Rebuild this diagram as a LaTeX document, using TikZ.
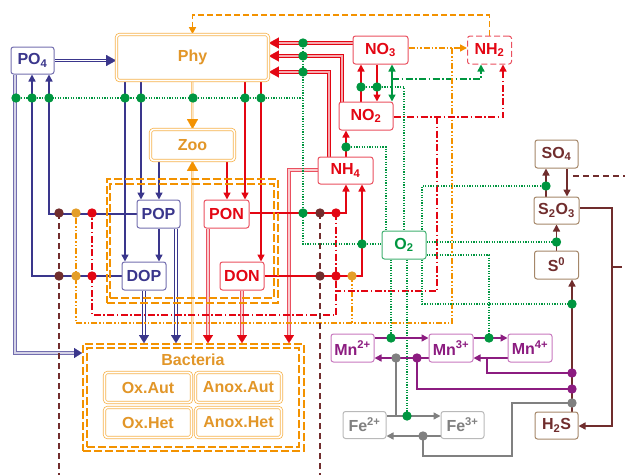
\documentclass[tikz,border=0pt]{standalone}
\usepackage{fontspec}
\setmainfont{Liberation Sans}
\usetikzlibrary{arrows.meta,calc}
\definecolor{cB}{RGB}{58,54,140}
\definecolor{cBb}{RGB}{115,110,175}
\definecolor{cR}{RGB}{227,6,19}
\definecolor{cRb}{RGB}{234,80,95}
\definecolor{cRl}{RGB}{246,170,175}
\definecolor{cG}{RGB}{0,150,64}
\definecolor{cO}{RGB}{243,146,0}
\definecolor{cOt}{RGB}{226,150,40}
\definecolor{cOl}{RGB}{249,200,130}
\definecolor{cOd}{RGB}{228,158,40}
\definecolor{cBr}{RGB}{112,45,45}
\definecolor{cBrb}{RGB}{165,135,105}
\definecolor{cP}{RGB}{140,28,128}
\definecolor{cPb}{RGB}{200,120,190}
\definecolor{cGy}{RGB}{128,128,128}
\definecolor{cGyb}{RGB}{185,185,185}
\pgfdeclarelayer{bg}
\pgfsetlayers{bg,main}
\newcommand\atip[4]{\draw[draw=#1, fill=#1, line width=0.2pt, #2] ($#3+#4$) -- #3;}
\newcommand\mydot[3]{\fill[#1] (#2,#3) circle (4.7pt);}
\begin{document}
\begin{tikzpicture}[x=1pt,y=-1pt,
 every node/.style={inner sep=0pt, font=\bfseries\fontsize{16}{16}\selectfont},
 box/.style={draw, fill=white, rounded corners=2.5pt, line width=1pt, minimum width=43pt, minimum height=27pt},
 bbox/.style={box, draw=cBb, text=cB},
 rbox/.style={box, draw=cRb, text=cR},
 gbox/.style={box, draw=cG!75, text=cG},
 sbox/.style={box, draw=cBrb, text=cBr},
 mbox/.style={box, draw=cPb, text=cP},
 fbox/.style={box, draw=cGyb, text=cGy},
 obox/.style={draw=cO!70, double=white, double distance=1.6pt, line width=0.75pt, fill=white, rounded corners=3pt, text=cOt},
 odash/.style={draw=cO, line width=1.8pt, dash pattern=on 8pt off 3pt},
 tipS/.style={-{Triangle[length=7pt,width=7pt]}},
 tipM/.style={-{Triangle[length=8pt,width=10pt]}},
 tipL/.style={-{Triangle[length=10pt,width=11pt]}},
 lB/.style={draw=cB, line width=1.5pt},
 lR/.style={draw=cR, line width=1.5pt},
 lG/.style={draw=cG, line width=1.5pt},
 lBr/.style={draw=cBr, line width=1.5pt},
 lP/.style={draw=cP, line width=1.5pt},
 lGy/.style={draw=cGy, line width=1.5pt},
 dB/.style={draw=cB, double=white, double distance=1.6pt, line width=0.8pt},
 dBl/.style={draw=cBb, double=cBb!30, double distance=1.6pt, line width=0.8pt},
 dR/.style={draw=cR, double=cRl, double distance=1.6pt, line width=0.8pt},
 dRl/.style={draw=cRb, double=cRl!60, double distance=1.6pt, line width=0.8pt},
 dO/.style={draw=cOl, double=cOl!50, double distance=2pt, line width=0.9pt},
 gdot/.style={draw=cG, line width=1.2pt, dash pattern=on 1.2pt off 1.4pt},
 rdd/.style={draw=cR, line width=1.5pt, dash pattern=on 7pt off 2.5pt on 1.5pt off 2.5pt},
 gdd/.style={draw=cG, line width=1.5pt, dash pattern=on 7pt off 2.5pt on 1.5pt off 2.5pt},
 odd/.style={draw=cO, line width=1.5pt, dash pattern=on 6pt off 2pt on 1.5pt off 2pt on 1.5pt off 2pt},
 od/.style={draw=cO, line width=1.5pt, dash pattern=on 6pt off 3pt},
 brd/.style={draw=cBr, line width=1.4pt, dash pattern=on 6pt off 4pt}
]
\useasboundingbox (0,0) rectangle (625,475);

% ---------- nodes ----------
\node[odash, minimum width=171pt, minimum height=124pt] (OMo) at (192.5,241) {};
\node[odash, minimum width=164pt, minimum height=114pt] (OMi) at (192,241) {};
\node[odash, minimum width=221pt, minimum height=107pt] (Bact) at (193.5,397.5) {};
\node[odash, minimum width=212pt, minimum height=99pt] (BactIn) at (193,397.5) {};
\node[text=cOt] (BacL) at (193,360) {Bacteria};
\node[obox, minimum width=87pt, minimum height=30pt] (OxAut) at (148,387.5) {Ox.Aut};
\node[obox, minimum width=86pt, minimum height=30pt] (AnAut) at (238.5,387.5) {Anox.Aut};
\node[obox, minimum width=87pt, minimum height=30pt] (OxHet) at (148,422.5) {Ox.Het};
\node[obox, minimum width=86pt, minimum height=30pt] (AnHet) at (238.5,422.5) {Anox.Het};

\node[bbox] (PO4) at (32.5,60.5) {PO\textsubscript{4}};
\node[obox, minimum width=152pt, minimum height=46pt] (Phy) at (192.5,57.5) {Phy};
\node[obox, minimum width=84pt, minimum height=31pt] (Zoo) at (192.5,145) {Zoo};
\node[rbox, minimum width=55pt, minimum height=28pt] (NO3) at (380.5,50) {NO\textsubscript{3}};
\node[rbox, dash pattern=on 6pt off 3pt, minimum width=44pt, minimum height=28pt] (NH2) at (489.5,50) {NH\textsubscript{2}};
\node[rbox, minimum width=54pt, minimum height=28pt] (NO2) at (366,116) {NO\textsubscript{2}};
\node[rbox, minimum width=55pt] (NH4) at (345.5,170.5) {NH\textsubscript{4}};
\node[bbox, minimum height=28pt] (POP) at (158.5,214) {POP};
\node[rbox, minimum width=45pt, minimum height=28pt] (PON) at (226.5,214) {PON};
\node[bbox, minimum width=44pt, minimum height=28pt] (DOP) at (144,276) {DOP};
\node[rbox, minimum width=44pt, minimum height=28pt] (DON) at (242,276) {DON};
\node[gbox, minimum width=44pt, minimum height=28pt] (O2) at (404,245) {O\textsubscript{2}};
\node[sbox, minimum height=28pt] (SO4) at (556.5,154) {SO\textsubscript{4}};
\node[sbox, minimum width=45pt] (S2O3) at (556.5,210.5) {S\textsubscript{2}O\textsubscript{3}};
\node[sbox, minimum width=44pt, minimum height=28pt] (S0) at (556.5,265) {S\textsuperscript{0}};
\node[sbox] (H2S) at (556.5,425.5) {H\textsubscript{2}S};
\node[mbox, minimum height=28pt] (Mn2) at (352.5,348) {Mn\textsuperscript{2+}};
\node[mbox, minimum width=44pt, minimum height=28pt] (Mn3) at (451,348) {Mn\textsuperscript{3+}};
\node[mbox, minimum width=44pt, minimum height=28pt] (Mn4) at (530,348) {Mn\textsuperscript{4+}};
\node[fbox] (Fe2) at (364.5,425) {Fe\textsuperscript{2+}};
\node[fbox] (Fe3) at (462.5,425) {Fe\textsuperscript{3+}};

\begin{pgfonlayer}{bg}
% orange dashed feedback NH2 -> Phy
\draw[od, tipS] (NH2.north) -- (489.5,15) -- (192.5,15) -- (Phy.north);
% PO4 -> Phy
\draw[dB, shorten >=9pt] (PO4.east) -- (Phy.west |- PO4.east);
\atip{cB}{tipL}{(Phy.west |- PO4.east)}{(-3,0)}
% PO4 -> Bacteria
\draw[dBl, shorten >=7pt] (15,0 |- PO4.south) -- (15,353) -- (Bact.west |- 0,353);
\atip{cB}{tipM}{(Bact.west |- 0,353)}{(-3,0)}
% POP, DOP -> PO4
\draw[lB, tipS] (POP.west) -- (49,0 |- POP.west) -- (49,0 |- PO4.south);
\draw[lB, tipS] (DOP.west) -- (32,0 |- DOP.west) -- (32,0 |- PO4.south);
% Phy/Zoo -> POP/DOP
\draw[lB, tipS] (125,0 |- Phy.south) -- (125,0 |- DOP.north);
\draw[lB, tipS] (141,0 |- Phy.south) -- (141,0 |- POP.north);
\draw[lB, tipS] (159,0 |- Zoo.south) -- (159,0 |- POP.north);
\draw[lB, tipS] (159,0 |- POP.south) -- (159,0 |- DOP.north);
% POP, DOP -> Bacteria
\draw[dB, shorten >=7pt] (176,0 |- POP.south) -- (176,0 |- Bact.north);
\atip{cB}{tipM}{(176,0 |- Bact.north)}{(0,-3)}
\draw[dB, shorten >=7pt] (144,0 |- DOP.south) -- (144,0 |- Bact.north);
\atip{cB}{tipM}{(144,0 |- Bact.north)}{(0,-3)}
% Phy -> Zoo, Bacteria -> Zoo
\draw[dO, shorten >=9pt] (Phy.south) -- (Zoo.north);
\atip{cO}{tipL}{(Zoo.north)}{(0,-3)}
\draw[dO, shorten >=9pt] (192.5,0 |- Bact.north) -- (Zoo.south);
\atip{cO}{tipL}{(Zoo.south)}{(0,3)}
% nitrogen -> Phy
\draw[dR, shorten >=9pt] (NO3.west |- 0,43) -- (Phy.east |- 0,43);
\atip{cR}{tipL}{(Phy.east |- 0,43)}{(3,0)}
\draw[dR, shorten >=9pt] (342,0 |- NO2.north) -- (342,56) -- (Phy.east |- 0,56);
\atip{cR}{tipL}{(Phy.east |- 0,56)}{(3,0)}
\draw[dR, shorten >=9pt] (329,0 |- NH4.north) -- (329,72) -- (Phy.east |- 0,72);
\atip{cR}{tipL}{(Phy.east |- 0,72)}{(3,0)}
% NH4 -> Bacteria
\draw[dRl, shorten >=7pt] (NH4.west |- 0,170) -- (289,170) -- (289,0 |- Bact.north);
\atip{cR}{tipM}{(289,0 |- Bact.north)}{(0,-3)}
% Phy/Zoo -> PON/DON
\draw[lR, tipS] (245,0 |- Phy.south) -- (245,0 |- PON.north);
\draw[lR, tipS] (227,0 |- Zoo.south) -- (227,0 |- PON.north);
\draw[lR, tipS] (261,0 |- Phy.south) -- (261,0 |- DON.north);
% PON, DON -> Bacteria
\draw[dRl, shorten >=7pt] (208,0 |- PON.south) -- (208,0 |- Bact.north);
\atip{cR}{tipM}{(208,0 |- Bact.north)}{(0,-3)}
\draw[dRl, shorten >=7pt] (242,0 |- DON.south) -- (242,0 |- Bact.north);
\atip{cR}{tipM}{(242,0 |- Bact.north)}{(0,-3)}
% PON, DON -> NH4
\draw[lR, tipS] (PON.east |- 0,213) -- (346,213) -- (346,0 |- NH4.south);
\draw[lR, tipS] (DON.east |- 0,276) -- (362,276) -- (362,0 |- NH4.south);
% nitrification
\draw[lR, tipS] (346,0 |- NH4.north) -- (346,0 |- NO2.south);
\draw[lR, tipS] (361,0 |- NO2.north) -- (361,0 |- NO3.south);
\draw[lR, tipS] (377,0 |- NO3.south) -- (377,0 |- NO2.north);
\draw[lG, {Triangle[length=7pt,width=7pt]}-{Triangle[length=7pt,width=7pt]}] (392,0 |- NO3.south) -- (392,0 |- NO2.north);
\draw[gdd, tipS] (392,79) -- (481,79) -- (481,0 |- NH2.south);
% NO3 -> NH2 orange
\draw[odd, tipS] (NO3.east |- 0,48) -- (NH2.west |- 0,48);
\draw[odd] (452,48) -- (452,323) -- (76,323) -- (76,213);
\draw[odd] (352,276) -- (352,323);
% NO2 -> NH2 red
\draw[rdd, tipS] (NO2.east |- 0,117) -- (503,117) -- (503,0 |- NH2.south);
\draw[rdd] (437,117) -- (437,291) -- (336,291);
\draw[rdd] (336,213) -- (336,315) -- (92,315) -- (92,213);
% oxygen dotted
\draw[gdot] (16,98) -- (303,98);
\draw[gdot] (303,43) -- (303,244) -- (O2.west |- 0,244);
\draw[gdot] (361,87) -- (404,87) -- (404,0 |- O2.north);
\draw[gdot] (346,147) -- (386,147) -- (386,0 |- O2.north);
\draw[gdot] (O2.east |- 0,242) -- (556.5,242);
\draw[gdot] (546,186) -- (422,186) -- (422,304) -- (572,304);
\draw[gdot] (O2.east |- 0,255) -- (489,255) -- (489,338);
\draw[gdot] (391,0 |- O2.south) -- (391,338);
\draw[gdot] (407,0 |- O2.south) -- (407,416);
% sulfur
\draw[brd] (59,213) -- (59,475);
\draw[brd] (320,213) -- (320,475);
\draw[lBr, tipS] (546,0 |- S2O3.north) -- (546,0 |- SO4.south);
\draw[lBr, tipS] (567,0 |- SO4.south) -- (567,0 |- S2O3.north);
\draw[brd] (573,176) -- (625,176);
\draw[lBr, tipS] (S0.north) -- (S2O3.south);
\draw[lBr, tipS] (572,0 |- H2S.north) -- (572,0 |- S0.south);
\draw[lBr, tipS] (S2O3.east |- 0,208) -- (612,208) -- (612,426) -- (H2S.east |- 0,426);
\draw[lBr] (612,267) -- (622,267);
% manganese
\draw[lP, tipS] (Mn2.east |- 0,338) -- (Mn3.west |- 0,338);
\draw[lP, tipS] (Mn3.east |- 0,338) -- (Mn4.west |- 0,338);
\draw[lP, tipS] (Mn4.west |- 0,358) -- (Mn3.east |- 0,358);
\draw[lP, tipS] (Mn3.west |- 0,358) -- (Mn2.east |- 0,358);
\draw[lP] (417,358) -- (417,389) -- (572,389);
\draw[lP] (487,358) -- (487,373) -- (572,373);
% iron
\draw[lGy, tipS] (Fe2.east |- 0,416) -- (Fe3.west |- 0,416);
\draw[lGy, tipS] (Fe3.west |- 0,436) -- (Fe2.east |- 0,436);
\draw[lGy] (396,358) -- (396,416);
\draw[lGy] (423,436) -- (423,456) -- (512,456) -- (512,403) -- (572,403);
\end{pgfonlayer}

% ---------- dots ----------
\foreach \x/\y in {16/98,32/98,49/98,125/98,141/98,193/98,245/98,261/98,303/43,303/56,303/72,303/213,362/244,361/87,377/87,346/147,546/186,556.5/242,572/304,391/338,489/338,407/416}
  {\mydot{cG}{\x}{\y}}
\foreach \x/\y in {59/213,59/276,320/213,320/276} {\mydot{cBr}{\x}{\y}}
\foreach \x/\y in {76/213,76/276,352/276} {\mydot{cOd}{\x}{\y}}
\foreach \x/\y in {92/213,92/276,336/213,336/276} {\mydot{cR}{\x}{\y}}
\foreach \x/\y in {396/358,423/436,572/403} {\mydot{cGy}{\x}{\y}}
\foreach \x/\y in {417/358,572/373,572/389} {\mydot{cP}{\x}{\y}}
\end{tikzpicture}
\end{document}
